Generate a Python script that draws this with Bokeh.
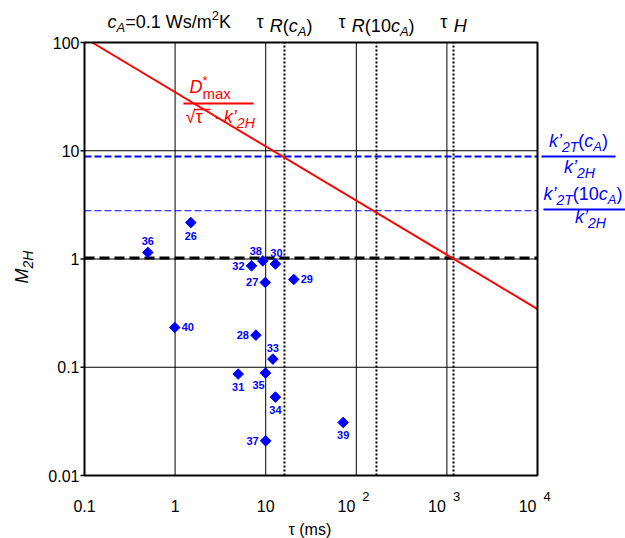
import math
from bokeh.plotting import figure
from bokeh.models import Label, Arrow, ColumnDataSource, Range1d
from bokeh.core.properties import value
from bokeh.embed import file_html
from bokeh.resources import INLINE

FONT = "Liberation Sans"

# ---------------- data ----------------
point_id = [26, 36, 38, 30, 32, 27, 29, 40, 28, 33, 31, 35, 34, 39, 37]
tau_ms = [1.49, 0.50, 9.3, 12.8, 6.97, 9.9, 20.4, 0.99, 7.8, 12.0, 4.97, 9.96, 12.8, 71.6, 10.0]
m_2h = [2.17, 1.15, 0.96, 0.90, 0.865, 0.607, 0.647, 0.233, 0.198, 0.119,
        0.0865, 0.0884, 0.053, 0.0309, 0.0209]
label_side = ["below", "above", "aboveleft", "above", "left", "left", "right", "right",
              "left", "above", "below", "belowleft", "below", "below", "left"]

# D*max / sqrt(tau * k'2H) line (end points inside the axes box)
tau_line = [0.1216, 10000.0]
m_line = [100.0, 0.345]

ratio_levels = [8.83, 2.79]      # k'2T(cA)/k'2H , k'2T(10cA)/k'2H
unity_level = [1.02]
tau_markers = [16.1, 167.0, 1183.0]   # tau_R(cA), tau_R(10cA), tau_H

x_ticks = [0.1, 1.0, 10.0, 100.0, 1000.0, 10000.0]
x_tick_base = ["0.1", "1", "10", "10", "10", "10"]
x_tick_exp = ["", "", "", "2", "3", "4"]
y_ticks = [0.01, 0.1, 1.0, 10.0, 100.0]
y_tick_labels = ["0.01", "0.1", "1", "10", "100"]

# ---------------- layout: axes box on the canvas (px) ----------------
CW, CH = 625, 538
BL, BT, BR, BB = 84, 42, 537, 475
x_lo, x_hi = math.log10(x_ticks[0]), math.log10(x_ticks[-1])
y_lo, y_hi = math.log10(y_ticks[0]), math.log10(y_ticks[-1])
xdec = (BR - BL) / (x_hi - x_lo)
ydec = (BB - BT) / (y_hi - y_lo)

p = figure(x_axis_type="log", y_axis_type="log",
           x_axis_location=None, y_axis_location=None,
           x_range=Range1d(10 ** (x_lo - BL / xdec), 10 ** (x_hi + (CW - BR) / xdec)),
           y_range=Range1d(10 ** (y_lo - (CH - BB) / ydec), 10 ** (y_hi + BT / ydec)),
           width=CW, height=CH, min_border=0,
           output_backend="svg", toolbar_location=None)
p.background_fill_color = "white"
p.border_fill_color = "white"
p.outline_line_color = None
p.xgrid.visible = False
p.ygrid.visible = False

x0, x1 = x_ticks[0], x_ticks[-1]
y0, y1 = y_ticks[0], y_ticks[-1]

# grid
p.segment(x0=x_ticks, x1=x_ticks, y0=[y0] * len(x_ticks), y1=[y1] * len(x_ticks),
          line_color="black", line_width=1)
p.segment(x0=[x0] * len(y_ticks), x1=[x1] * len(y_ticks), y0=y_ticks, y1=y_ticks,
          line_color="black", line_width=1)

# reference lines
p.segment(x0=[x0], x1=[x1], y0=unity_level, y1=unity_level,
          line_color="black", line_width=3, line_dash="10 5")
p.segment(x0=[x0], x1=[x1], y0=ratio_levels[:1], y1=ratio_levels[:1],
          line_color="#0000ff", line_width=2, line_dash="7 3")
p.segment(x0=[x0], x1=[x1], y0=ratio_levels[1:], y1=ratio_levels[1:],
          line_color="#0000ff", line_width=1, line_dash="7 3")
p.segment(x0=tau_markers, x1=tau_markers, y0=[y0] * 3, y1=[y1] * 3,
          line_color="black", line_width=2, line_dash="2 2")
p.line(tau_line, m_line, line_color="#ff0000", line_width=2)

# points
offs = {"below": (0, 13, "center"), "above": (0, -11, "center"),
        "aboveleft": (-7, -10, "center"), "belowleft": (-7, 12, "center"),
        "left": (-7, 0, "right"), "right": (7, 0, "left")}
src = ColumnDataSource(dict(
    tau=tau_ms, m=m_2h, lbl=[str(i) for i in point_id],
    dx=[offs[s][0] + (1 if i == 30 else 0) for s, i in zip(label_side, point_id)],
    dy=[offs[s][1] for s in label_side],
    align=[offs[s][2] for s in label_side]))
p.scatter(x="tau", y="m", source=src, marker="square", angle=math.pi / 4, size=7.5,
          fill_color="#0000ff", line_color="#0000ff")
p.text(x="tau", y="m", text="lbl", source=src, x_offset="dx", y_offset="dy",
       text_align="align", text_baseline="middle", text_font=value(FONT),
       text_font_style="bold", text_font_size="11px", text_color="#0000ff")

# axes box, ticks and tick labels
p.quad(left=[x0], right=[x1], bottom=[y0], top=[y1], fill_color=None,
       line_color="black", line_width=2)
p.ray(x=[x0] * len(y_ticks), y=y_ticks, length=4, length_units="screen", angle=math.pi,
      line_color="black", line_width=1.5)
p.text(x=[x0] * len(y_ticks), y=y_ticks, text=y_tick_labels, x_offset=-5,
       text_align="right", text_baseline="middle", text_font=value(FONT),
       text_font_size="16px", text_color="black")
xsrc = ColumnDataSource(dict(
    x=x_ticks, y=[y0] * len(x_ticks), base=x_tick_base, exp=x_tick_exp,
    align=["right" if e else "center" for e in x_tick_exp],
    dx=[-1 if e else 0 for e in x_tick_exp]))
p.text(x="x", y="y", text="base", source=xsrc, x_offset="dx", y_offset=30,
       text_align="align", text_baseline="middle", text_font=value(FONT),
       text_font_size="16px", text_color="black")
p.text(x="x", y="y", text="exp", source=xsrc, x_offset=6, y_offset=21,
       text_align="left", text_baseline="middle", text_font=value(FONT),
       text_font_size="13px", text_color="black")

# ---------------- rich text helpers ----------------
W = {"0": .556, "1": .556, "2": .556, "3": .556, "4": .556, "5": .556, "6": .556, "7": .556,
     "8": .556, "9": .556, ".": .278, " ": .278, "=": .584, "/": .278, "(": .333, ")": .333,
     "c": .5, "s": .5, "m": .833, "W": .944, "K": .667, "A": .667, "H": .722, "M": .833,
     "R": .722, "T": .611, "k": .5, "a": .556, "x": .5, "D": .722, "*": .389, "’": .222,
     "τ": .47, "√": .549, "·": .278}
MID = 0.35   # distance of the text's middle above its baseline, in em


def tw(s, size):
    return sum(W.get(ch, .556) for ch in s) * size


def sx(px):
    return px


def sy(py):
    return CH - py


def rich(pieces, x, y, xu="screen", color="black", align="left", angle=0.0):
    """y (and x for rotated text) give the position of the text's baseline."""
    total = sum(tw(t, s) for t, s, _, _, adv in pieces if adv)
    cur = 0.0 if align == "left" else -total / 2
    for t, s, style, dy, adv in pieces:
        if t.strip():
            if angle == 0:
                xo, yo = cur, dy + MID * s
            else:
                xo, yo = -dy - MID * s, cur
            p.add_layout(Label(x=x, y=y, x_units=xu, y_units="screen", x_offset=xo, y_offset=yo,
                               text=t, text_font=FONT, text_font_size=f"{s}px",
                               text_font_style=style, text_color=color,
                               text_baseline="middle", text_align="left", angle=angle))
        if adv:
            cur += tw(t, s)


def P(t, s=18, style="normal", dy=0, adv=True):
    return (t, s, style, dy, adv)


def bar(xa, xb, y, color, width=2):
    p.add_layout(Arrow(end=None, start=None, x_start=sx(xa), y_start=sy(y), x_end=sx(xb), y_end=sy(y),
                       start_units="screen", end_units="screen", line_color=color,
                       line_width=width))


# x axis label
rich([P("τ (ms)", 16)], sx(310), sy(535), align="center")

# y axis label M_2H (rotated)
rich([P("M", 18, "italic"), P("2H", 14, "italic", -4)], sx(28), sy(283), angle=math.pi / 2)

# top annotations
rich([P("c", 18, "italic"), P("A", 13, "italic", -4), P("=0.1 Ws/m"), P("2", 13, "normal", 8), P("K")],
     sx(107), sy(28))
rich([P("τ"), P(" "), P("R", 18, "italic", -4), P("(", 18, "normal", -4), P("c", 18, "italic", -4),
      P("A", 13, "italic", -8), P(")", 18, "normal", -4)],
     tau_markers[0], sy(28), xu="data", align="center")
rich([P("τ"), P(" "), P("R", 18, "italic", -4), P("(10", 18, "normal", -4), P("c", 18, "italic", -4),
      P("A", 13, "italic", -8), P(")", 18, "normal", -4)],
     tau_markers[1], sy(28), xu="data", align="center")
rich([P("τ"), P(" "), P("H", 18, "italic", -4)], tau_markers[2], sy(28), xu="data", align="center")

# red formula
RED = "#ff0000"
rich([P("D", 18, "italic"), P("*", 13, "normal", 8, False), P("max", 15, "normal", -5)],
     sx(189), sy(93), color=RED)
bar(183, 253, 103, RED)
rich([P("√"), P("τ"), P(" "), P(" "), P("·"), P(" "), P("k", 18, "italic"), P("’", 18, "italic"),
      P("2H", 14, "italic", -4)],
     sx(185), sy(123), color=RED)
bar(194, 210, 109, RED, 1.5)

# right-hand ratio labels
BLUE = "#0000ff"
rich([P("k", 18, "italic"), P("’", 18, "italic"), P("2T", 14, "italic", -4), P("("),
      P("c", 18, "italic"), P("A", 13, "italic", -4), P(")")],
     sx(578), sy(147), color=BLUE, align="center")
bar(541, 615, 156, BLUE)
rich([P("k", 18, "italic"), P("’", 18, "italic"), P("2H", 14, "italic", -4)],
     sx(579), sy(173), color=BLUE, align="center")
rich([P("k", 18, "italic"), P("’", 18, "italic"), P("2T", 14, "italic", -4), P("(10"),
      P("c", 18, "italic"), P("A", 13, "italic", -4), P(")")],
     sx(543), sy(200), color=BLUE)
bar(543, 625, 209, BLUE)
rich([P("k", 18, "italic"), P("’", 18, "italic"), P("2H", 14, "italic", -4)],
     sx(590), sy(223), color=BLUE, align="center")

open("out.html", "w").write(file_html(p, INLINE))
